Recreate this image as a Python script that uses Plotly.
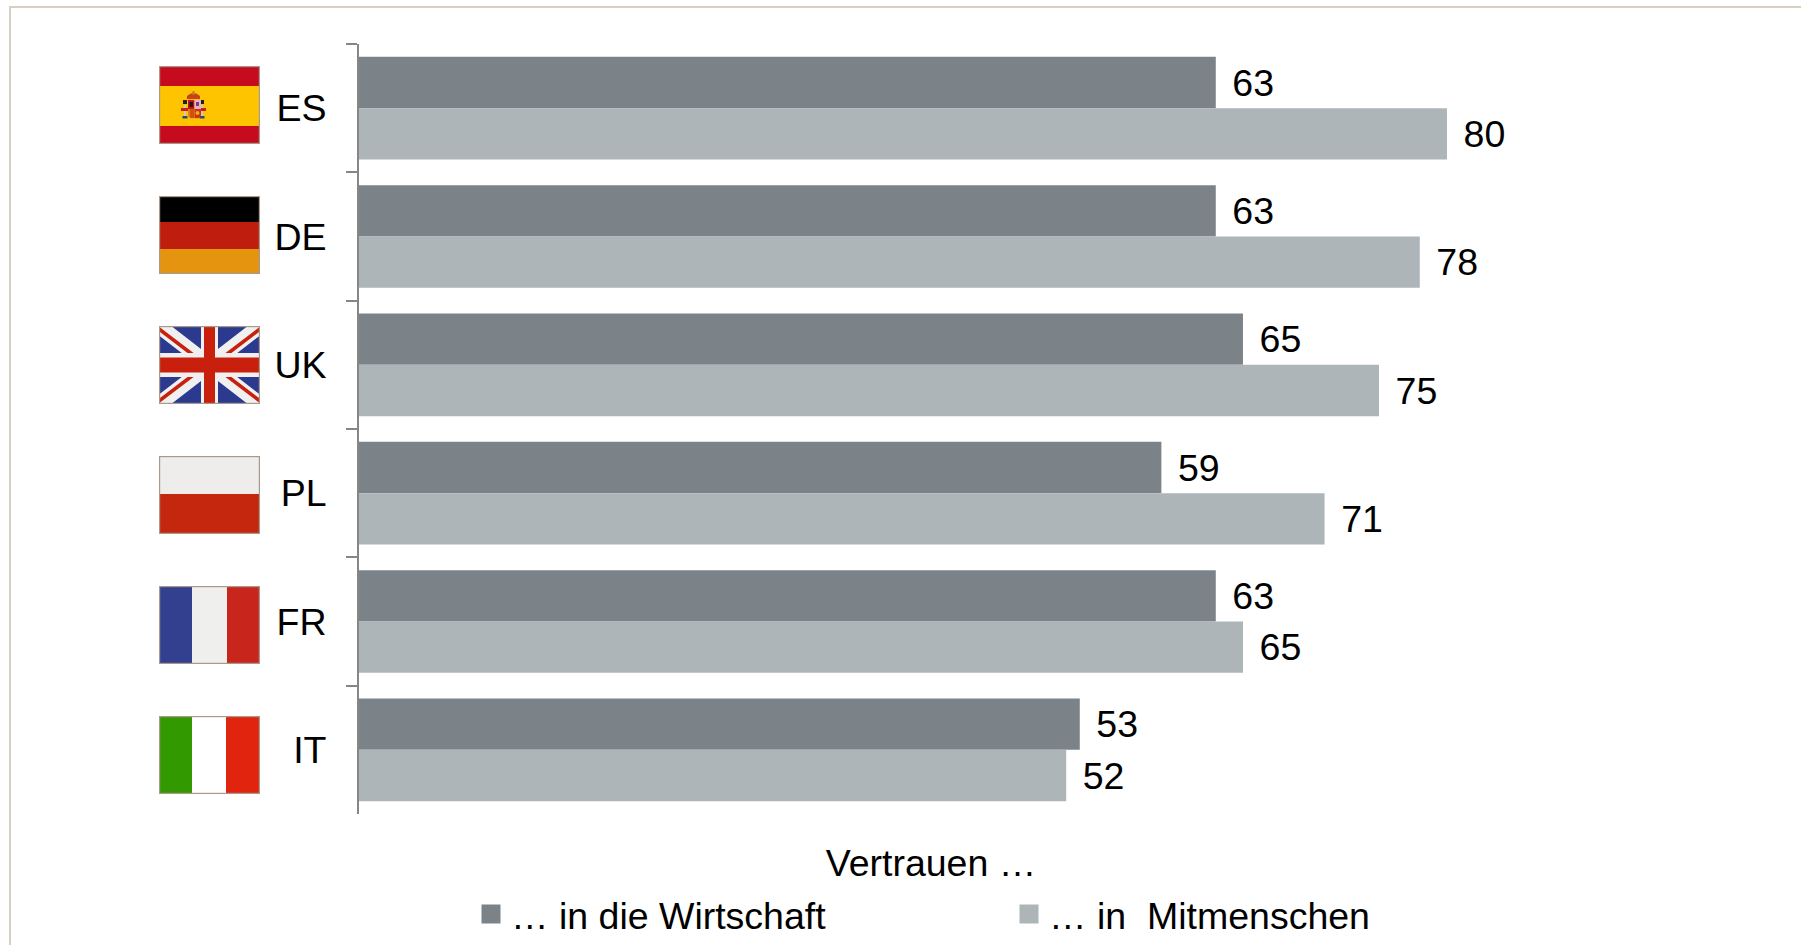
import base64
import plotly.graph_objects as go

countries = ["ES", "DE", "UK", "PL", "FR", "IT"]
wirtschaft = [63, 63, 65, 59, 63, 53]
mitmenschen = [80, 78, 75, 71, 65, 52]
series_names = ["… in die Wirtschaft", "… in  Mitmenschen"]
axis_title = "Vertrauen …"

DARK = "#7c8388"
LIGHT = "#adb5b8"
FONT = "Liberation Sans, Arial, sans-serif"
FS = 37.5
W, H = 1801, 945
L, R, T, B = 359, 1503, 44, 814


def px(x):
    return (x - L) / (R - L)


def py(y):
    return (B - y) / (B - T)


def svg_uri(body):
    svg = ('<svg xmlns="http://www.w3.org/2000/svg" viewBox="0 0 101 78" width="404" height="312" '
           'preserveAspectRatio="none">' + body +
           '<rect x="0.6" y="0.6" width="99.8" height="76.8" fill="none" stroke="#a8998a" stroke-width="1.2"/></svg>')
    return "data:image/svg+xml;base64," + base64.b64encode(svg.encode()).decode()


crest = (
    '<rect x="25" y="39" width="2" height="12" fill="#c9c9c9"/><rect x="42" y="39" width="2" height="12" fill="#c9c9c9"/>'
    '<rect x="23.5" y="50" width="5" height="2.5" fill="#2a4a7a"/><rect x="40.5" y="50" width="5" height="2.5" fill="#2a4a7a"/>'
    '<rect x="24" y="34" width="4" height="4" fill="#2a2010"/><rect x="41" y="34" width="4" height="4" fill="#2a2010"/>'
    '<path d="M22 42h7v3h-7zM40 42h7v3h-7z" fill="#c8201c"/>'
    '<path d="M28 30q6.5-6 13 0v3h-13z" fill="#c8401c"/><rect x="33.5" y="25" width="2" height="4" fill="#b8860b"/>'
    '<path d="M29 34h6.5v9h-6.5z" fill="#c8101c"/><rect x="30.5" y="36" width="3.5" height="5" fill="#1a1a1a"/>'
    '<path d="M35.5 34h6.5v9h-6.5z" fill="#e8b0c8"/><rect x="37" y="36" width="3" height="4" fill="#704080"/>'
    '<path d="M29 43h6.5v9q-6 1-6.5-3z" fill="#e08010"/><path d="M32 43v9M34 43v9" stroke="#b01010" stroke-width="0.8"/>'
    '<path d="M35.5 43h6.5v6q-0.5 4-6.5 3z" fill="#d03010"/><circle cx="38.5" cy="47" r="2" fill="#e8b020"/>'
)
flag_es = svg_uri('<rect width="101" height="78" fill="#c60b1e"/><rect y="20" width="101" height="40" fill="#ffc400"/>' + crest)
flag_de = svg_uri('<rect width="101" height="26" fill="#000"/><rect y="26" width="101" height="27" fill="#bf1e0e"/><rect y="53" width="101" height="25" fill="#e59410"/>')
flag_uk = svg_uri(
    '<defs><clipPath id="c"><rect width="101" height="78"/></clipPath></defs><g clip-path="url(#c)">'
    '<rect width="101" height="78" fill="#2b3a8e"/>'
    '<path d="M0 0L101 78M101 0L0 78" stroke="#f0f0f0" stroke-width="15"/>'
    '<path d="M0 3L46 38M55 40L101 75M101 3L55 38M46 40L0 75" stroke="#c8200c" stroke-width="3.5"/>'
    '<path d="M50.5 0V78" stroke="#f0f0f0" stroke-width="17"/><path d="M0 39H101" stroke="#f0f0f0" stroke-width="24"/>'
    '<path d="M50.5 0V78" stroke="#c8200c" stroke-width="11"/><path d="M0 39H101" stroke="#c8200c" stroke-width="15"/></g>')
flag_pl = svg_uri('<rect width="101" height="78" fill="#eeedeb"/><rect y="38" width="101" height="40" fill="#c4260e"/>')
flag_fr = svg_uri('<rect width="33" height="78" fill="#33408f"/><rect x="33" width="35" height="78" fill="#efefed"/><rect x="68" width="33" height="78" fill="#c8261c"/>')
flag_it = svg_uri('<rect width="33" height="78" fill="#339900"/><rect x="33" width="34" height="78" fill="#fff"/><rect x="67" width="34" height="78" fill="#e0240e"/>')
flags = [flag_es, flag_de, flag_uk, flag_pl, flag_fr, flag_it]
flag_tops = [66, 196, 326, 456, 586, 716]

images = [
    dict(source=s, xref="paper", yref="paper", x=px(159), y=py(t), sizex=101 / (R - L), sizey=78 / (B - T),
         xanchor="left", yanchor="top", sizing="stretch", layer="above")
    for s, t in zip(flags, flag_tops)
]

fig = go.Figure()
for vals, col in ((wirtschaft, DARK), (mitmenschen, LIGHT)):
    fig.add_trace(go.Bar(
        y=countries, x=vals, orientation="h", marker=dict(color=col, line=dict(width=0)),
        texttemplate="\u00a0\u200a%{x}", textposition="outside", cliponaxis=False, constraintext="none",
        textfont=dict(size=FS, color="#000", family=FONT), showlegend=False, hoverinfo="x+y"))
for name, col in zip(series_names, (DARK, LIGHT)):
    fig.add_trace(go.Scatter(
        x=[None], y=[None], mode="markers", name=name,
        marker=dict(symbol="square", size=16, color=col, line=dict(color=col, width=3))))

frame = dict(type="path", xref="paper", yref="paper", layer="below",
             path=f"M {px(10)} {py(960)} L {px(10)} {py(7)} L {px(1810)} {py(7)}",
             line=dict(color="#d6cfc2", width=2))

fig.update_layout(
    width=W, height=H, autosize=False,
    margin=dict(l=L, r=W - R, t=T, b=H - B, pad=0, autoexpand=False),
    paper_bgcolor="#fff", plot_bgcolor="#fff",
    font=dict(family=FONT, size=FS, color="#000"),
    barmode="group", bargap=0.2, bargroupgap=0,
    images=images, shapes=[frame],
    legend=dict(orientation="h", x=px(471), y=py(883), xanchor="left", yanchor="top",
                entrywidth=493, entrywidthmode="pixels", itemsizing="trace",
                font=dict(size=FS, family=FONT, color="#000"), bgcolor="rgba(0,0,0,0)",
                itemclick=False, itemdoubleclick=False, traceorder="normal"),
    xaxis=dict(range=[0, 84.12], fixedrange=True, showgrid=False, zeroline=False, showline=False,
               showticklabels=False, ticks="", automargin=False,
               title=dict(text=axis_title, standoff=35, font=dict(size=FS, family=FONT, color="#000"))),
    yaxis=dict(autorange=False, range=[5.5, -0.5], type="category", categoryorder="array", categoryarray=countries,
               fixedrange=True, showgrid=False, zeroline=False, showline=True, linecolor="#868686", linewidth=2,
               ticks="outside", ticklen=11, tickwidth=2, tickcolor="#868686", tickson="boundaries",
               ticklabelstandoff=23, automargin=False,
               tickfont=dict(size=FS, family=FONT, color="#000")),
)

fig.write_html("out.html", config={"displayModeBar": False},
               post_script="document.documentElement.style.overflow='hidden';document.body.style.margin='0';")
